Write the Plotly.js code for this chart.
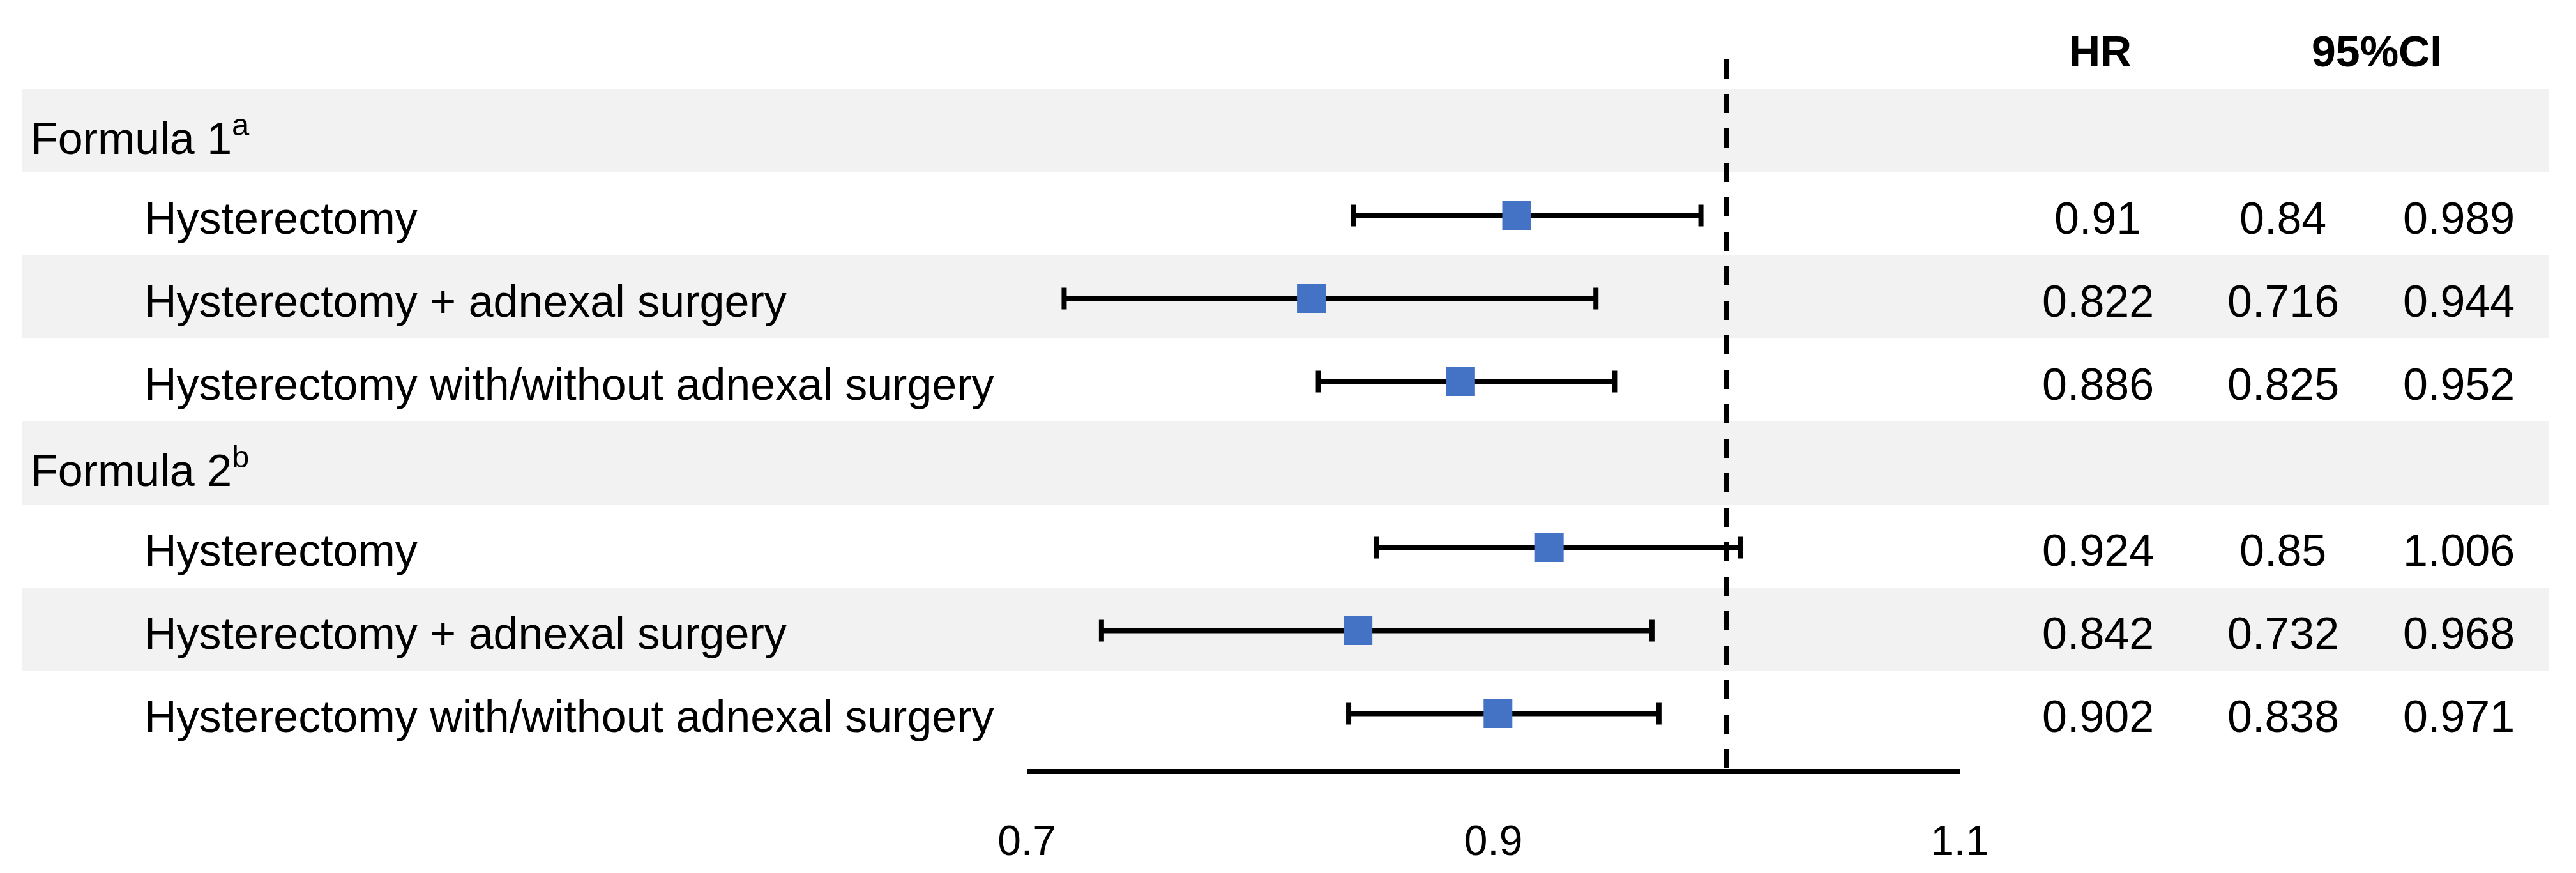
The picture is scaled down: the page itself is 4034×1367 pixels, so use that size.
<!DOCTYPE html>
<html>
<head>
<meta charset="utf-8">
<script src="https://cdn.plot.ly/plotly-3.0.1.min.js"></script>
<style>html,body{margin:0;padding:0;background:#fff;}#chart{width:4034px;height:1367px;}</style>
</head>
<body>
<div id="chart"></div>
<script>
// ---- data ----
const rowLabels = ["Formula 1<sup>a</sup>", "Hysterectomy", "Hysterectomy + adnexal surgery", "Hysterectomy with/without adnexal surgery",
                   "Formula 2<sup>b</sup>", "Hysterectomy", "Hysterectomy + adnexal surgery", "Hysterectomy with/without adnexal surgery"];
const isHeader = [true, false, false, false, true, false, false, false];
const hr    = [null, 0.91,  0.822, 0.886, null, 0.924, 0.842, 0.902];
const ciLow = [null, 0.84,  0.716, 0.825, null, 0.85,  0.732, 0.838];
const ciHigh= [null, 0.989, 0.944, 0.952, null, 1.006, 0.968, 0.971];
const xTicks = [0.7, 0.9, 1.1];
const refValue = 1.0;
const colHeaders = ["HR", "95%CI"];

// ---- layout helpers (pixel geometry) ----
const W = 4034, H = 1367;
const rowTop0 = 205, rowH = 130;            // centre of row 0 and row spacing in px
const yOf = px => (px - rowTop0) / rowH;     // px -> y data value
const xp = px => px / W;                     // px -> paper x
const axisY = 1208;

const idx = rowLabels.map((_, i) => i);
const ptsIdx = idx.filter(i => hr[i] !== null);

const trace = {
  type: 'scatter', mode: 'markers',
  x: ptsIdx.map(i => hr[i]),
  y: ptsIdx.map(i => i + 0.02),
  marker: {symbol: 'square', size: 45, color: '#4472C4', line: {width: 0}},
  error_x: {type: 'data', symmetric: false,
    array: ptsIdx.map(i => +(ciHigh[i] - hr[i]).toFixed(4)),
    arrayminus: ptsIdx.map(i => +(hr[i] - ciLow[i]).toFixed(4)),
    color: '#000', thickness: 8, width: 17},
  hoverinfo: 'skip'
};

const shapes = [];
idx.forEach(i => {
  if (i % 2 === 0) {
    shapes.push({type: 'rect', layer: 'below', xref: 'paper', yref: 'y',
      x0: xp(34), x1: xp(3992), y0: i - 0.5, y1: i + 0.5,
      fillcolor: '#F2F2F2', line: {width: 0}});
  }
});
shapes.push({type: 'line', layer: 'below', xref: 'x', yref: 'y',
  x0: refValue, x1: refValue, y0: yOf(93), y1: yOf(axisY),
  line: {color: '#000', width: 8, dash: '30px,24px'}});

const font = 'Liberation Sans, Arial, sans-serif';
const annotations = [];
idx.forEach(i => {
  annotations.push({xref: 'paper', yref: 'y', x: xp(isHeader[i] ? 46 : 224), y: i + 0.05,
    xanchor: 'left', yanchor: 'middle', showarrow: false, text: rowLabels[i],
    font: {family: font, size: 70, color: '#000'}});
  if (hr[i] !== null) {
    [[hr[i], 3285], [ciLow[i], 3575], [ciHigh[i], 3850]].forEach(([v, px]) => {
      annotations.push({xref: 'paper', yref: 'y', x: xp(px), y: i + 0.05,
        xanchor: 'center', yanchor: 'middle', showarrow: false, text: String(v),
        font: {family: font, size: 70, color: '#000'}});
    });
  }
});
annotations.push({xref: 'paper', yref: 'y', x: xp(3289), y: yOf(80), xanchor: 'center', yanchor: 'middle',
  showarrow: false, text: '<b>' + colHeaders[0] + '</b>', font: {family: font, size: 68, color: '#000'}});
annotations.push({xref: 'paper', yref: 'y', x: xp(3722), y: yOf(80), xanchor: 'center', yanchor: 'middle',
  showarrow: false, text: '<b>' + colHeaders[1] + '</b>', font: {family: font, size: 68, color: '#000'}});

const layout = {
  width: W, height: H,
  margin: {l: 0, r: 0, t: 0, b: 0, pad: 0},
  paper_bgcolor: '#fff', plot_bgcolor: 'rgba(0,0,0,0)',
  showlegend: false,
  xaxis: {domain: [xp(1608), xp(3069)], range: [0.7, 1.1], anchor: 'free', position: 1 - axisY / H,
    showgrid: false, zeroline: false, showline: true, linecolor: '#000', linewidth: 8,
    ticks: '', tickvals: xTicks, ticktext: xTicks.map(String), ticklabelstandoff: 48,
    tickfont: {family: 'Liberation Sans Narrow, Arial Narrow, Liberation Sans, sans-serif', size: 66, color: '#000'},
    fixedrange: true},
  yaxis: {domain: [0, 1], range: [yOf(H), yOf(0)], visible: false, fixedrange: true},
  shapes: shapes, annotations: annotations
};

Plotly.newPlot('chart', [trace], layout, {staticPlot: true, displayModeBar: false});
</script>
</body>
</html>
